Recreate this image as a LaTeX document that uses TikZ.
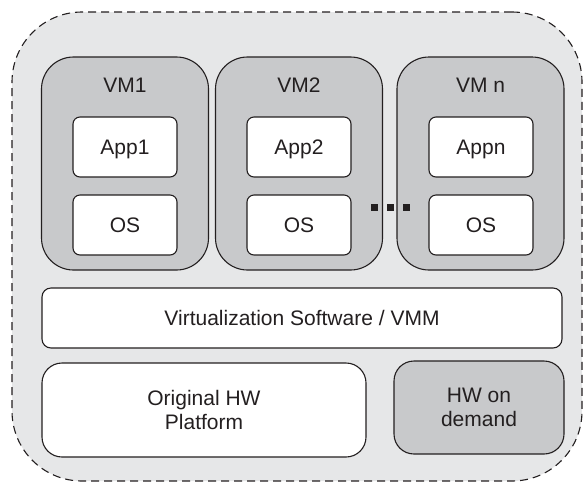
\documentclass[tikz,border=0pt]{standalone}
\usepackage{fontspec}
\setmainfont{Liberation Sans}
\definecolor{hostgray}{HTML}{E6E7E8}
\definecolor{vmgray}{HTML}{C8C9CB}
\definecolor{linegray}{HTML}{231F20}
\begin{document}
\begin{tikzpicture}[x=1pt, y=-1pt, line width=1.1pt,
    every node/.style={draw=linegray, align=center, inner sep=0pt, text=linegray, font=\fontsize{21}{24}\selectfont},
    host/.style={dash pattern=on 8pt off 5pt, fill=hostgray, rounded corners=70pt, minimum width=570pt, minimum height=469pt},
    vmbox/.style={fill=vmgray, rounded corners=32pt, minimum width=167pt, minimum height=213pt},
    vmlabel/.style={draw=none, text height=15pt, text depth=0pt},
    appbox/.style={fill=white, rounded corners=7pt, minimum width=104pt, minimum height=60pt, text height=15pt, text depth=0pt},
    hwbox/.style={rounded corners=20pt, minimum height=94pt}]
    \useasboundingbox (0,0) rectangle (583,483);
    \node[host] (host) at (297,246.5) {};
    % virtual machines
    \node[vmbox] (vm1) at (125,163.5) {};
    \node[vmbox] (vm2) at (299,163.5) {};
    \node[vmbox] (vmn) at (480.5,163.5) {};
    \node[vmlabel] (vm1name) at (125,85) {VM1};
    \node[vmlabel] (vm2name) at (299,85) {VM2};
    \node[vmlabel] (vmnname) at (480.5,85) {VM n};
    \node[appbox] (app1) at (125,147) {App1};
    \node[appbox] (app2) at (299,147) {App2};
    \node[appbox] (appn) at (481,147) {Appn};
    \node[appbox] (os1) at (125,225) {OS};
    \node[appbox] (os2) at (299,225) {OS};
    \node[appbox] (osn) at (481,225) {OS};
    \foreach \x in {374,390,406}
      \fill[linegray] (\x-3.5,204) rectangle (\x+3.5,211);
    % layers below
    \node[fill=white, rounded corners=9pt, minimum width=520pt, minimum height=60pt, text height=15pt, text depth=0pt] (vmm) at (302,318) {Virtualization Software / VMM};
    \node[hwbox, fill=white, minimum width=324pt] (orighw) at (204,410) {Original HW\\Platform};
    \node[hwbox, fill=vmgray, minimum width=170pt, minimum height=93pt] (hwdemand) at (479,407.5) {HW on\\demand};
  \end{tikzpicture}
\end{document}
